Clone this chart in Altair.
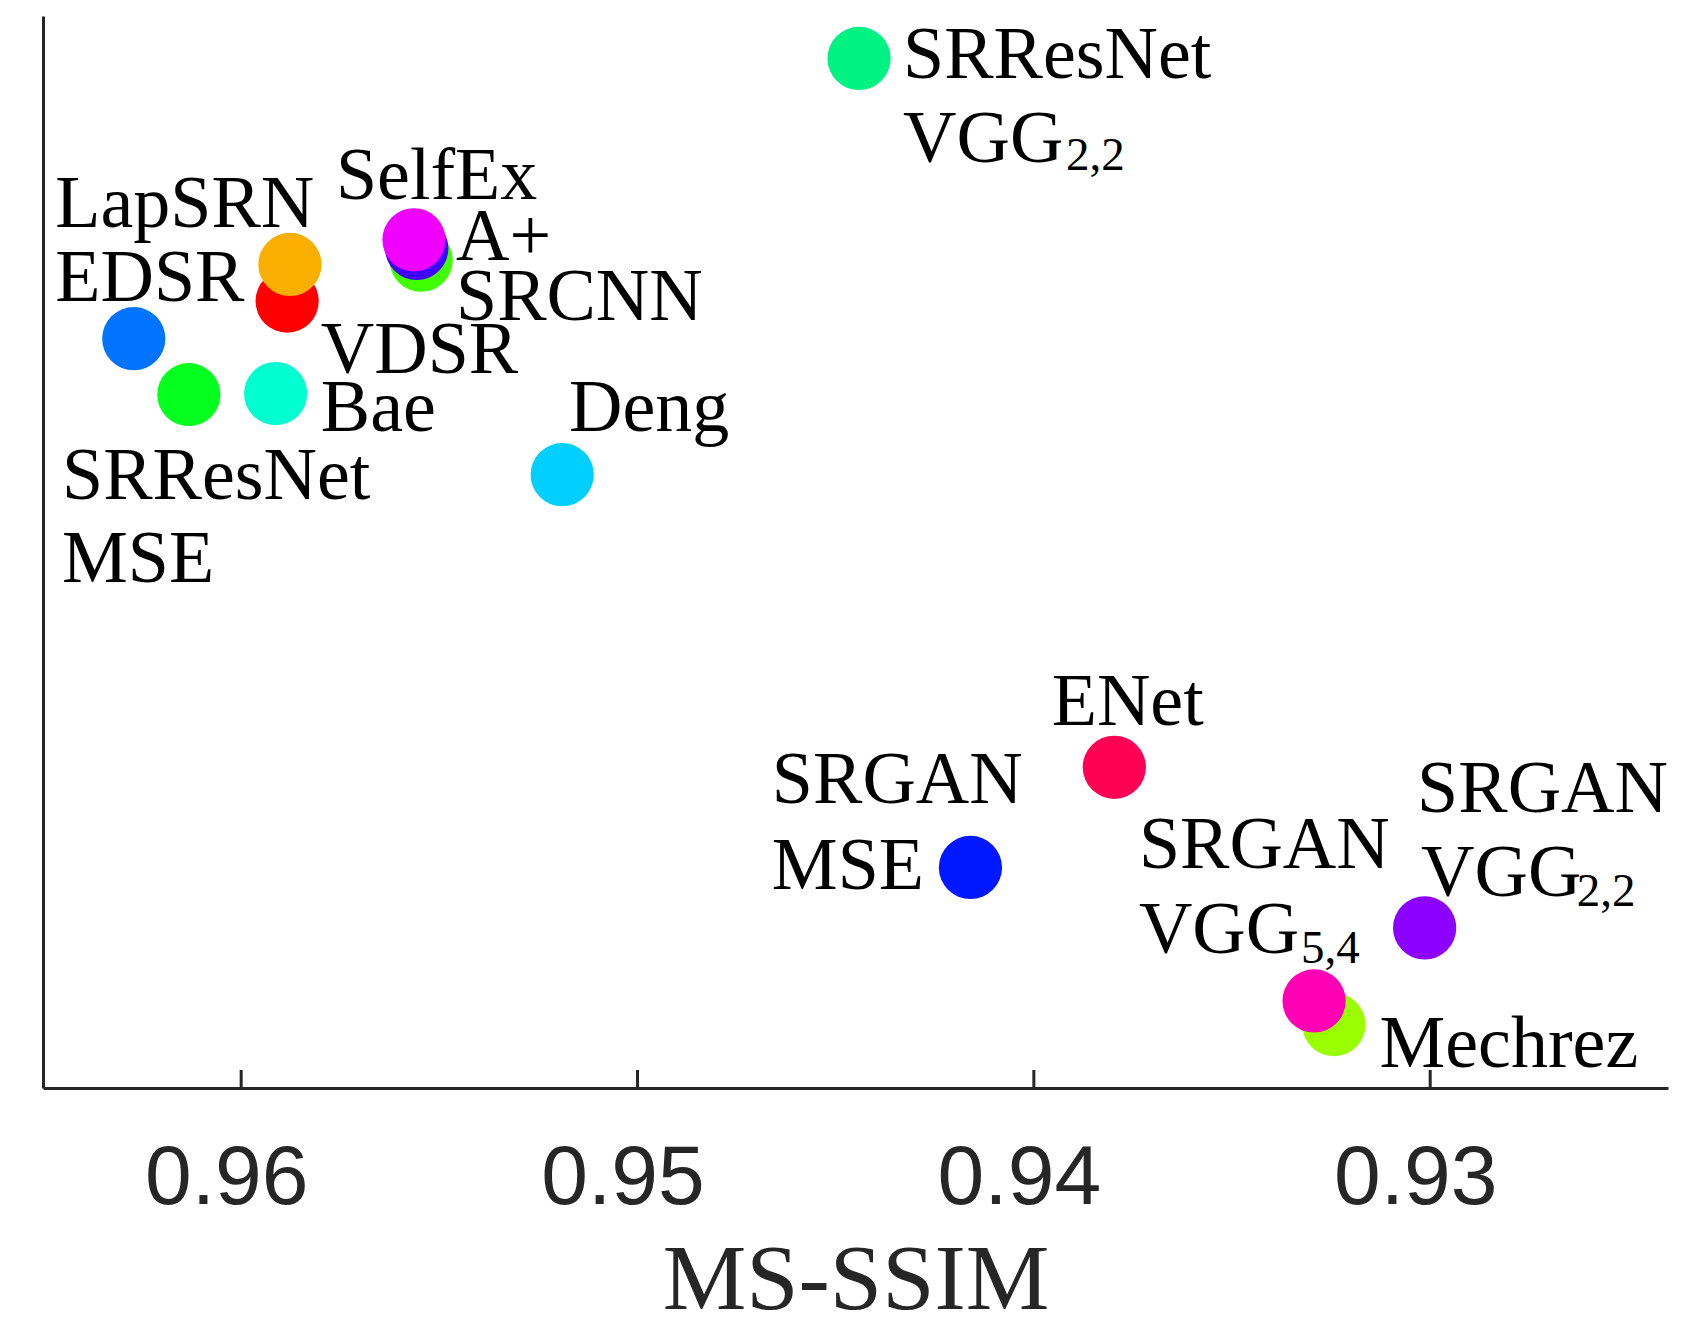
import altair as alt
import pandas as pd

# ---- point data (drawn in this order) ----
methods = ["EDSR", "SRResNet-MSE", "Bae", "VDSR", "LapSRN", "SRCNN", "A+", "SelfEx",
           "Deng", "SRResNet-VGG22", "ENet", "SRGAN-MSE", "SRGAN-VGG22", "Mechrez", "SRGAN-VGG54"]
ms_ssim = [0.96271, 0.96132, 0.95913, 0.95884, 0.95877, 0.95546, 0.95557, 0.95564,
           0.95190, 0.94441, 0.93797, 0.94160, 0.93014, 0.93243, 0.93293]
score = [69.90, 64.68, 64.78, 73.41, 76.82, 77.22, 78.32, 79.12,
         57.21, 96.04, 29.92, 20.57, 14.93, 5.92, 8.12]
colors = ["#0073FF", "#05FF1E", "#00FFD0", "#FF0000", "#F9AE00", "#40FF00", "#4000FF", "#F000FF",
          "#00CFFF", "#00F283", "#FF0055", "#0018FF", "#8C00FF", "#99FF00", "#FF00B4"]

# ---- label annotations (anchor in data units, left / baseline) ----
label_text = ["SRResNet", "VGG", "SelfEx", "LapSRN", "A+", "EDSR", "SRCNN", "VDSR", "Bae", "Deng",
              "SRResNet", "MSE", "ENet", "SRGAN", "MSE", "SRGAN", "VGG", "SRGAN", "VGG", "Mechrez"]
label_x = [0.94330, 0.94330, 0.95761, 0.96469, 0.95458, 0.96469, 0.95458, 0.95799, 0.95799, 0.95173,
           0.96452, 0.96452, 0.93955, 0.94661, 0.94661, 0.93735, 0.93735, 0.93033, 0.93023, 0.93128]
label_y = [94.22, 86.38, 82.96, 80.32, 77.24, 73.41, 71.64, 66.74, 61.29, 61.29,
           54.97, 47.24, 33.86, 26.59, 18.56, 20.49, 12.57, 25.79, 17.94, 1.92]

sub_text = ["2,2", "5,4", "2,2"]
sub_x = [0.93919, 0.93326, 0.92630]
sub_y = [85.59, 11.66, 16.98]

tick_values = [0.96, 0.95, 0.94, 0.93]

W, H = 1625, 1072
AX = "#262626"

pts = pd.DataFrame({"method": methods, "x": ms_ssim, "y": score, "color": colors,
                    "order": list(range(len(methods)))})
labs = pd.DataFrame({"text": label_text, "x": label_x, "y": label_y})
subs = pd.DataFrame({"text": sub_text, "x": sub_x, "y": sub_y})
ticks = pd.DataFrame({"x": tick_values})

xscale = alt.Scale(domain=[0.965, 0.924], nice=False, zero=False)
yscale = alt.Scale(domain=[0, 100], nice=False, zero=False)

xaxis = alt.Axis(values=tick_values, format=".2f", title="MS-SSIM", grid=False,
                 ticks=False, tickSize=0, labelFont="Liberation Sans", labelFontSize=84,
                 labelColor=AX, labelPadding=49, labelOffset=-15,
                 domainColor=AX, domainWidth=3,
                 titleFont="Liberation Serif", titleFontSize=94, titleFontWeight="normal",
                 titleColor=AX, titleY=220, titleBaseline="alphabetic")
yaxis = alt.Axis(title=None, labels=False, ticks=False, grid=False,
                 domainColor=AX, domainWidth=3)

points = alt.Chart(pts).mark_circle(size=4000, opacity=1).encode(
    x=alt.X("x:Q", scale=xscale, axis=xaxis),
    y=alt.Y("y:Q", scale=yscale, axis=yaxis),
    color=alt.Color("color:N", scale=None),
    order=alt.Order("order:Q"),
)

tickmarks = alt.Chart(ticks).mark_rule(color=AX, strokeWidth=3).encode(
    x=alt.X("x:Q", scale=xscale),
    y=alt.value(H),
    y2=alt.value(H - 18),
)

labels = alt.Chart(labs).mark_text(align="left", baseline="alphabetic",
                                   font="Liberation Serif", fontSize=74, color="black").encode(
    x=alt.X("x:Q", scale=xscale),
    y=alt.Y("y:Q", scale=yscale),
    text="text:N",
)

sublabels = alt.Chart(subs).mark_text(align="left", baseline="alphabetic",
                                      font="Liberation Serif", fontSize=47, color="black").encode(
    x=alt.X("x:Q", scale=xscale),
    y=alt.Y("y:Q", scale=yscale),
    text="text:N",
)

chart = alt.layer(tickmarks, points, labels, sublabels).properties(
    width=W, height=H,
    autosize=alt.AutoSizeParams(type="none"),
    padding={"left": 35, "top": 8, "right": 10, "bottom": 226},
    background="white",
).configure_view(stroke=None)

chart.save("out.html", embed_options={"renderer": "svg", "actions": False})
